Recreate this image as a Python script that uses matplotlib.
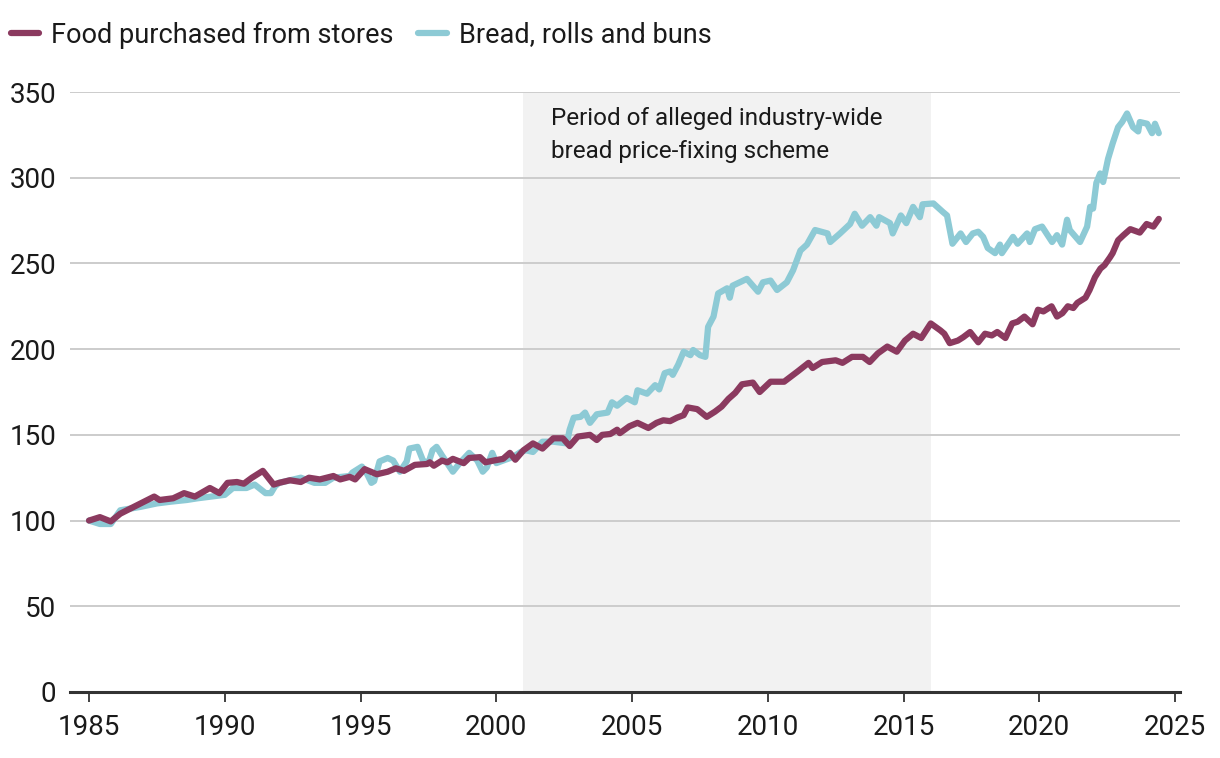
import matplotlib
matplotlib.use("Agg")
import matplotlib.pyplot as plt
from matplotlib.lines import Line2D

plt.rcParams['font.family'] = ['Roboto', 'DejaVu Sans']

# Consumer price index, 1985 = 100
food_years = [1985.0, 1985.4, 1985.8, 1986.15, 1986.9, 1987.4, 1987.6, 1988.1, 1988.5, 1988.9,
              1989.45, 1989.8, 1990.1, 1990.45, 1990.7, 1991.0, 1991.4, 1991.8, 1992.0, 1992.4,
              1992.8, 1993.1, 1993.5, 1994.0, 1994.25, 1994.6, 1994.8, 1995.15, 1995.6, 1996.0,
              1996.3, 1996.6, 1997.0, 1997.45, 1997.55, 1997.7, 1998.0, 1998.2, 1998.4, 1998.8,
              1999.0, 1999.4, 1999.6, 1999.9, 2000.25, 2000.5, 2000.7, 2001.0, 2001.35, 2001.7,
              2002.1, 2002.45, 2002.7, 2003.0, 2003.45, 2003.7, 2003.9, 2004.2, 2004.45, 2004.55,
              2004.9, 2005.2, 2005.6, 2005.9, 2006.15, 2006.4, 2006.65, 2006.9, 2007.05, 2007.4,
              2007.75, 2008.05, 2008.3, 2008.55, 2008.8, 2009.05, 2009.45, 2009.7, 2010.1, 2010.6,
              2011.1, 2011.5, 2011.65, 2012.0, 2012.5, 2012.75, 2013.1, 2013.5, 2013.75, 2014.05,
              2014.4, 2014.75, 2015.05, 2015.35, 2015.65, 2016.0, 2016.35, 2016.5, 2016.7, 2017.0,
              2017.2, 2017.45, 2017.75, 2018.0, 2018.25, 2018.45, 2018.75, 2019.0, 2019.2, 2019.45,
              2019.75, 2019.95, 2020.15, 2020.45, 2020.65, 2020.85, 2021.05, 2021.25, 2021.4, 2021.7,
              2021.85, 2022.05, 2022.25, 2022.4, 2022.6, 2022.7, 2022.9, 2023.1, 2023.35, 2023.7,
              2023.95, 2024.2, 2024.4]
food_vals = [100, 102, 99.5, 104, 110, 114, 112, 113, 116, 114,
             119, 116, 122, 122.5, 121.5, 125, 129, 121, 122, 123.5,
             122.5, 125, 124, 126, 124, 125.5, 124, 130, 127, 128.5,
             130.5, 129, 132.5, 133, 134, 132, 135, 134, 136, 133.5,
             136.5, 137, 134, 135, 136, 139.5, 135.5, 141, 145, 142,
             148, 148, 143.5, 149, 150, 147, 150, 150.5, 153, 151,
             155, 157, 154, 157, 158.5, 158, 160, 161.5, 166, 165,
             160.5, 163.5, 166.5, 171, 174.5, 179.5, 180.5, 175, 181, 181,
             187, 192, 189, 192.5, 193.5, 192, 195.5, 195.5, 192.5, 197.5,
             201.5, 198.5, 205, 209, 206.5, 215, 211, 209, 203.5, 205,
             207, 210, 204, 209, 208, 210, 206.5, 215, 216, 219,
             214.5, 223, 222, 225, 219, 221, 225, 224, 227, 230,
             234.5, 242, 247, 249, 253.5, 256, 263.5, 266.5, 270, 268,
             273, 271.5, 276]

bread_years = [1985.0, 1985.4, 1985.8, 1986.15, 1986.9, 1987.5, 1988.0, 1988.6, 1989.0, 1989.5,
               1990.0, 1990.3, 1990.8, 1991.1, 1991.5, 1991.7, 1991.85, 1992.0, 1992.8, 1993.3,
               1993.7, 1994.0, 1994.6, 1994.7, 1995.05, 1995.2, 1995.4, 1995.5, 1995.7, 1996.0,
               1996.2, 1996.45, 1996.7, 1996.8, 1997.1, 1997.3, 1997.5, 1997.65, 1997.8, 1998.0,
               1998.4, 1998.65, 1999.0, 1999.3, 1999.5, 1999.65, 1999.85, 2000.0, 2000.25, 2000.6,
               2000.9, 2001.1, 2001.35, 2001.7, 2002.1, 2002.6, 2002.7, 2002.85, 2003.1, 2003.27,
               2003.45, 2003.7, 2004.1, 2004.26, 2004.45, 2004.8, 2005.1, 2005.2, 2005.55, 2005.85,
               2006.0, 2006.2, 2006.4, 2006.5, 2006.7, 2006.9, 2007.15, 2007.25, 2007.5, 2007.7,
               2007.8, 2008.0, 2008.17, 2008.5, 2008.6, 2008.7, 2009.23, 2009.64, 2009.82, 2010.1,
               2010.34, 2010.7, 2010.93, 2011.2, 2011.44, 2011.74, 2012.2, 2012.3, 2012.66, 2013.03,
               2013.2, 2013.47, 2013.77, 2014.0, 2014.1, 2014.5, 2014.6, 2014.9, 2015.1, 2015.35,
               2015.6, 2015.7, 2016.1, 2016.45, 2016.6, 2016.8, 2017.1, 2017.3, 2017.55, 2017.75,
               2017.93, 2018.1, 2018.37, 2018.55, 2018.62, 2019.03, 2019.2, 2019.55, 2019.65, 2019.84,
               2020.1, 2020.47, 2020.65, 2020.84, 2021.02, 2021.12, 2021.5, 2021.76, 2021.87, 2021.98,
               2022.1, 2022.24, 2022.35, 2022.53, 2022.7, 2022.9, 2023.05, 2023.23, 2023.45, 2023.64,
               2023.7, 2023.97, 2024.15, 2024.26, 2024.4]
bread_vals = [100, 98, 98, 106, 108, 110, 111, 112, 113, 114,
              115, 119, 119, 121, 116, 116, 120, 122, 125, 122,
              122, 125, 126, 128, 131.5, 128.5, 122, 123, 134.5, 136.5,
              135, 128.5, 134.5, 142, 143, 135, 133.5, 141, 143, 138,
              128.5, 133.5, 139.5, 135, 128.5, 131, 139.5, 133.5, 135, 137,
              140, 141, 140, 146, 146, 145, 153, 160, 160.5, 163,
              157, 162, 163, 169, 167, 171.5, 169, 176, 174, 179,
              176.5, 186, 187, 185, 191, 198.5, 196.5, 199.5, 196.5, 195.5,
              213, 219, 232.5, 235.5, 230, 237, 241, 233.5, 239, 240,
              234.5, 239, 246, 257.5, 261, 269.5, 267.5, 262.5, 267.5, 273,
              279, 272, 277, 272, 277, 273.5, 267.5, 278, 273.5, 283,
              277, 284.5, 285, 280, 278, 261.5, 267.5, 262.5, 267.5, 268.5,
              265.5, 259, 256, 261, 256, 265.5, 261.5, 267.5, 262.5, 270,
              271.5, 262.5, 266.5, 261, 275.5, 269.5, 262.5, 271.5, 283, 282,
              297, 302.5, 297.5, 311, 320, 329.5, 332.5, 337.5, 329.5, 327,
              332.5, 331.5, 326, 331.5, 326]

period = (2001, 2016)
labels = ['Food purchased from stores', 'Bread, rolls and buns']
colors = ['#8b3a5f', '#8dcad5']

fig = plt.figure(figsize=(12.2, 7.58), dpi=100)
ax = fig.add_axes([0.0574, 0.0871, 0.9098, 0.7915])

ax.axvspan(*period, color='#f2f2f2', lw=0, zorder=0)
ax.plot(bread_years, bread_vals, color=colors[1], lw=4.5, solid_capstyle='round',
        solid_joinstyle='round', zorder=3)
ax.plot(food_years, food_vals, color=colors[0], lw=4.5, solid_capstyle='round',
        solid_joinstyle='round', zorder=4)

ax.text(2002.0, 341, 'Period of alleged industry-wide\nbread price-fixing scheme',
        fontsize=17.5, color='#1a1a1a', va='top', ha='left', linespacing=1.55)

ax.set_xlim(1984.3, 2025.18)
ax.set_ylim(0, 350)
ax.set_yticks(range(0, 351, 50))
ax.set_xticks(range(1985, 2026, 5))
ax.grid(axis='y', color='#cccccc', lw=1.4, zorder=1)
ax.set_axisbelow(True)
for s in ['top', 'right', 'left']:
    ax.spines[s].set_visible(False)
ax.spines['bottom'].set_color('#333333')
ax.spines['bottom'].set_linewidth(2.2)
ax.spines['bottom'].set_zorder(5)
ax.tick_params(axis='y', length=0, pad=10, labelsize=20, labelcolor='#1a1a1a')
ax.tick_params(axis='x', length=7, width=1.3, color='#333333', pad=9,
               labelsize=20, labelcolor='#1a1a1a')

handles = [Line2D([], [], color=c, lw=4.5, solid_capstyle='round') for c in colors]
fig.legend(handles, labels, loc='upper left', bbox_to_anchor=(0.0, 0.986), ncol=2,
           frameon=False, fontsize=19.5, handlelength=1.05, handletextpad=0.45,
           columnspacing=0.9, borderaxespad=0, labelcolor='#1a1a1a')

fig.savefig('out.png', dpi=100)
